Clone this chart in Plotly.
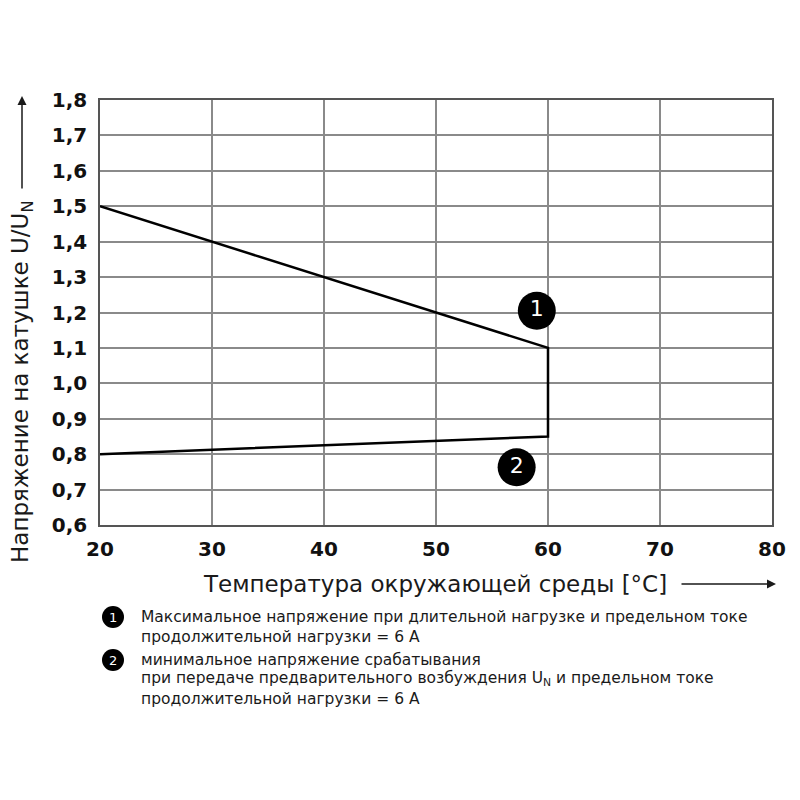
import plotly.graph_objects as go

# boundary of the permissible coil-voltage range
temp = [20, 60, 60, 20]
voltage = [1.5, 1.1, 0.85, 0.8]

# numbered callouts on the chart
label_x = [59.0, 57.2]
label_y = [1.205, 0.763]
labels = ["1", "2"]

x_ticks = [20, 30, 40, 50, 60, 70, 80]
y_ticks = [0.6, 0.7, 0.8, 0.9, 1.0, 1.1, 1.2, 1.3, 1.4, 1.5, 1.6, 1.7, 1.8]

note_lines = [
    "Максимальное напряжение при длительной нагрузке и предельном токе",
    "продолжительной нагрузки = 6 А",
    "минимальное напряжение срабатывания",
    "при передаче предварительного возбуждения U<sub>N</sub> и предельном токе",
    "продолжительной нагрузки = 6 А",
]
note_rows = [617, 637, 660, 679, 699]   # screen pixel rows of the note lines
note_marks = ["1", "2"]
note_mark_rows = [617, 660]

W, H = 800, 800
OFF = 8                      # page body margin of the browser
L, T = 92, 92
R, B = 36, 283
PW, PH = W - L - R, H - T - B


def px(x):
    return (x - OFF - L) / PW


def py(y):
    return (H - B - (y - OFF)) / PH


fig = go.Figure()
fig.add_trace(go.Scatter(x=temp, y=voltage, mode="lines",
                         line=dict(color="black", width=2.5), hoverinfo="skip"))
fig.add_trace(go.Scatter(x=label_x, y=label_y, mode="markers+text", text=labels,
                         marker=dict(size=38, color="black"),
                         textfont=dict(color="white", size=22, family="DejaVu Sans"),
                         textposition="middle center", cliponaxis=False))

axis_common = dict(showgrid=True, gridcolor="#8a8a8a", gridwidth=1.5,
                   showline=True, linecolor="#555555", linewidth=1.5, mirror=True,
                   zeroline=False, ticks="",
                   tickfont=dict(family="DejaVu Sans", size=20, color="#111111",
                                 weight="bold"))

fig.update_xaxes(range=[20, 80], tickvals=x_ticks, ticklabelstandoff=5, **axis_common)
fig.update_yaxes(range=[0.6, 1.8], tickvals=y_ticks, tickformat=".1f",
                 ticklabelstandoff=7, **axis_common)

fig.update_layout(
    width=W, height=H, showlegend=False, separators=",.",
    margin=dict(l=L, r=R, t=T, b=B),
    plot_bgcolor="white", paper_bgcolor="white",
    font=dict(family="DejaVu Sans", color="#1a1a1a"),
)

ann = []
# axis titles
ann.append(dict(text="Напряжение на катушке U/U<sub>N</sub>", xref="paper", yref="paper",
                x=px(22), y=py(382), xanchor="center", yanchor="middle",
                textangle=-90, showarrow=False, font=dict(size=23)))
ann.append(dict(text="", xref="paper", yref="paper", x=px(22), y=py(96),
                ax=0, ay=94, showarrow=True, arrowhead=2, arrowsize=1.2,
                arrowwidth=1.5, arrowcolor="#1a1a1a"))
ann.append(dict(text="Температура окружающей среды [°C]", xref="paper", yref="paper",
                x=px(435), y=py(584), xanchor="center", yanchor="middle",
                showarrow=False, font=dict(size=23)))
ann.append(dict(text="", xref="paper", yref="paper", x=px(776), y=py(584),
                ax=-96, ay=0, showarrow=True, arrowhead=2, arrowsize=1.2,
                arrowwidth=1.5, arrowcolor="#1a1a1a"))

# note symbols and text below the chart
for mark, row in zip(note_marks, note_mark_rows):
    fig.add_shape(type="circle", xref="paper", yref="paper",
                  x0=px(102), x1=px(124), y0=py(row + 11), y1=py(row - 11),
                  fillcolor="black", line=dict(color="black", width=0))
    ann.append(dict(text=mark, xref="paper", yref="paper", x=px(113), y=py(row),
                    xanchor="center", yanchor="middle", showarrow=False,
                    font=dict(size=13, color="white")))

for line, row in zip(note_lines, note_rows):
    ann.append(dict(text=line, xref="paper", yref="paper", x=px(139), y=py(row),
                    xanchor="left", yanchor="middle", showarrow=False,
                    font=dict(size=15.5)))

fig.update_layout(annotations=ann)

fig.write_html("out.html")
